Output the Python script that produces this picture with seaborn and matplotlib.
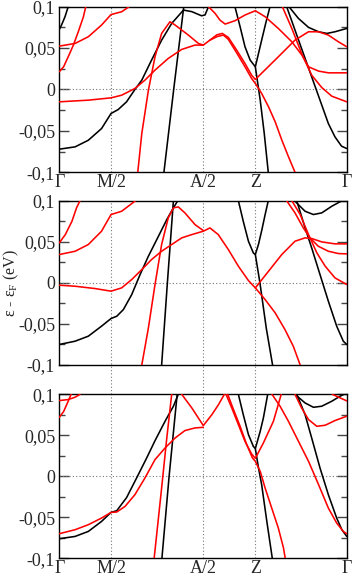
import numpy as np
import pandas as pd
import matplotlib
matplotlib.use("Agg")
import matplotlib.pyplot as plt
import seaborn as sns

# k-path (fraction of path length) and labels
kpts = [0.0, 0.18, 0.5, 0.682, 1.0]
klabels = ["Γ", "M/2", "A/2", "Z", "Γ"]
yticks = [-0.1, -0.05, 0.0, 0.05, 0.1]
ylabels = ["-0,1", "-0,05", "0", "0,05", "0,1"]

# ---- panel 1 : (k, E)
p1_black_gamma = [(0, 0.0725), (0.008, 0.078), (0.020, 0.088), (0.031, 0.100)]
p1_black_low = [(0, -0.0721), (0.055, -0.0693), (0.101, -0.0613), (0.147, -0.0472), (0.180, -0.029),
                (0.205, -0.0242), (0.234, -0.0149), (0.263, 0.0), (0.287, 0.0113), (0.321, 0.0355),
                (0.356, 0.0596), (0.391, 0.0798), (0.432, 0.0959), (0.461, 0.094), (0.495, 0.089),
                (0.507, 0.090), (0.519, 0.1)]
p1_black_steep = [(0.364, -0.1), (0.398, 0.0), (0.433, 0.1)]
p1_black_z = [(0.611, 0.1), (0.629, 0.0758), (0.646, 0.0516), (0.664, 0.0355), (0.682, 0.0274),
              (0.693, 0.0435), (0.704, 0.0596), (0.718, 0.0798), (0.733, 0.1)]
p1_black_zdown = [(0.682, 0.0274), (0.699, -0.0129), (0.713, -0.053), (0.727, -0.1)]
p1_black_g = [(0.791, 0.1), (0.820, 0.0717), (0.849, 0.0435), (0.878, 0.0153), (0.907, -0.0129),
              (0.936, -0.0411), (0.959, -0.0572), (0.982, -0.0685), (1.0, -0.0713)]
p1_black_h = [(0.799, 0.1), (0.832, 0.0858), (0.867, 0.075), (0.902, 0.0697), (0.931, 0.0677),
              (0.959, 0.0697), (1.0, 0.0737)]

p1_red_1 = [(0, 0.0524), (0.055, 0.0556), (0.101, 0.0637), (0.147, 0.0778), (0.180, 0.0905),
            (0.217, 0.0939), (0.243, 0.1)]
p1_red_2 = [(0, 0.0214), (0.015, 0.0274), (0.031, 0.0395), (0.049, 0.0536), (0.066, 0.0697),
            (0.084, 0.0879), (0.092, 0.1)]
p1_red_3 = [(0, -0.0149), (0.101, -0.0129), (0.180, -0.0101), (0.217, -0.0069), (0.263, 0.0012),
            (0.298, 0.0113), (0.333, 0.0234), (0.379, 0.0375), (0.426, 0.0484), (0.472, 0.0536),
            (0.501, 0.0536), (0.524, 0.0596), (0.548, 0.066), (0.567, 0.0677), (0.588, 0.0629),
            (0.617, 0.0476), (0.646, 0.0314), (0.669, 0.0173), (0.682, 0.0121), (0.762, 0.0395),
            (0.820, 0.0596), (0.867, 0.0697), (0.902, 0.0697), (0.936, 0.0657), (0.971, 0.0576),
            (1.0, 0.0516)]
p1_red_4 = [(0.273, -0.1), (0.287, -0.0532), (0.310, -0.0008), (0.333, 0.0395), (0.356, 0.0677),
            (0.385, 0.0818), (0.403, 0.0778), (0.449, 0.0657), (0.484, 0.0556), (0.501, 0.0536)]
p1_red_5 = [(0.524, 0.0596), (0.550, 0.0640), (0.571, 0.0657), (0.588, 0.0605), (0.617, 0.0443),
            (0.646, 0.0274), (0.669, 0.0133), (0.682, 0.0073), (0.704, -0.0048), (0.728, -0.021),
            (0.751, -0.039), (0.774, -0.061), (0.797, -0.081), (0.820, -0.1)]
p1_red_6 = [(0.519, 0.1), (0.542, 0.0919), (0.559, 0.0838), (0.577, 0.079), (0.611, 0.083),
            (0.646, 0.0899), (0.682, 0.0951), (0.716, 0.0879), (0.762, 0.0737), (0.809, 0.0576),
            (0.844, 0.0415), (0.867, 0.0274), (0.902, 0.0222), (0.936, 0.0201), (1.0, 0.0201)]
p1_red_7 = [(0.776, 0.1), (0.809, 0.0737), (0.843, 0.0435), (0.878, 0.0173), (0.913, 0.0024),
            (0.948, -0.0081), (1.0, -0.0149)]

# ---- panel 2
p2_black_low = [(0, -0.075), (0.055, -0.071), (0.101, -0.0649), (0.147, -0.0527), (0.180, -0.0434),
                (0.200, -0.0406), (0.223, -0.0325), (0.252, -0.0142), (0.281, 0.0101), (0.310, 0.0325),
                (0.345, 0.0568), (0.374, 0.0771), (0.397, 0.0913), (0.412, 0.1)]
p2_black_steep = [(0.356, -0.1), (0.376, 0.0), (0.397, 0.1)]
p2_black_z = [(0.623, 0.1), (0.640, 0.075), (0.658, 0.0507), (0.675, 0.0365), (0.682, 0.0345),
              (0.693, 0.047), (0.705, 0.065), (0.716, 0.083), (0.727, 0.1)]
p2_black_zdown = [(0.682, 0.0345), (0.698, 0.0), (0.720, -0.055), (0.742, -0.1)]
p2_black_g = [(0.826, 0.1), (0.855, 0.067), (0.878, 0.0426), (0.907, 0.0101), (0.936, -0.0223),
              (0.965, -0.0527), (0.988, -0.071), (1.0, -0.075)]
p2_black_h = [(0.818, 0.1), (0.855, 0.0872), (0.884, 0.0832), (0.913, 0.0852), (0.948, 0.0933),
              (0.983, 0.1)]

p2_red_1 = [(0, 0.0487), (0.021, 0.0588), (0.044, 0.075), (0.060, 0.0913), (0.072, 0.1)]
p2_red_2 = [(0, 0.0345), (0.055, 0.0385), (0.101, 0.0467), (0.147, 0.0629), (0.180, 0.0832),
            (0.217, 0.0872), (0.265, 0.1)]
p2_red_3 = [(0, -0.0028), (0.055, -0.0041), (0.124, -0.0069), (0.180, -0.0101), (0.217, -0.0061),
            (0.252, 0.0041), (0.287, 0.0162), (0.321, 0.0284), (0.356, 0.0385), (0.391, 0.0467),
            (0.426, 0.0548), (0.461, 0.0588), (0.501, 0.0629), (0.524, 0.0669), (0.553, 0.0588),
            (0.588, 0.0406), (0.623, 0.0203), (0.658, 0.0028), (0.682, -0.0061), (0.716, -0.0203),
            (0.751, -0.0365), (0.785, -0.0568), (0.814, -0.0771), (0.838, -0.1)]
p2_red_4 = [(0.287, -0.1), (0.310, -0.0548), (0.333, -0.002), (0.356, 0.0467), (0.379, 0.0791),
            (0.397, 0.0913), (0.414, 0.0925), (0.437, 0.0852), (0.472, 0.071), (0.501, 0.0637)]
p2_red_5 = [(0.682, -0.0061), (0.728, 0.0142), (0.774, 0.0345), (0.820, 0.0507), (0.855, 0.0548),
            (0.878, 0.054), (0.913, 0.0499), (0.959, 0.0475), (1.0, 0.0475)]
p2_red_6 = [(0.791, 0.1), (0.820, 0.0852), (0.849, 0.0669), (0.872, 0.0548), (0.901, 0.0446),
            (0.936, 0.0385), (0.971, 0.0357), (1.0, 0.0353)]
p2_red_7 = [(0.809, 0.1), (0.838, 0.0832), (0.867, 0.0588), (0.896, 0.0365), (0.925, 0.0203),
            (0.959, 0.0061), (1.0, -0.002)]

# ---- panel 3
p3_black_low = [(0, -0.0761), (0.055, -0.0733), (0.101, -0.0672), (0.147, -0.055), (0.180, -0.044),
                (0.200, -0.0419), (0.234, -0.026), (0.269, -0.002), (0.304, 0.0224), (0.333, 0.0435),
                (0.368, 0.0672), (0.397, 0.0855), (0.414, 0.1)]
p3_black_steep = [(0.357, -0.1), (0.382, 0.0), (0.410, 0.1)]
p3_black_z = [(0.623, 0.1), (0.640, 0.0753), (0.658, 0.0509), (0.675, 0.0366), (0.682, 0.0338),
              (0.699, 0.055), (0.710, 0.0712), (0.725, 0.1)]
p3_black_zdown = [(0.682, 0.0338), (0.693, 0.0102), (0.704, -0.0102), (0.722, -0.055), (0.741, -0.1)]
p3_black_g = [(0.826, 0.1), (0.855, 0.0753), (0.878, 0.0468), (0.907, 0.0102), (0.936, -0.0224),
              (0.965, -0.0509), (0.983, -0.0651), (1.0, -0.0733)]
p3_black_h = [(0.820, 0.1), (0.855, 0.0895), (0.884, 0.0842), (0.913, 0.0855), (0.948, 0.0916),
              (0.977, 0.0977), (0.99, 0.1)]

p3_red_low = [(0, -0.07), (0.055, -0.0651), (0.101, -0.059), (0.147, -0.0509), (0.180, -0.044),
              (0.200, -0.0435), (0.229, -0.0366), (0.263, -0.0224), (0.298, -0.002), (0.333, 0.0204),
              (0.368, 0.0346), (0.403, 0.0468), (0.437, 0.0558), (0.472, 0.059), (0.501, 0.0598)]
p3_red_steep = [(0.330, -0.1), (0.356, -0.0142), (0.374, 0.0468), (0.391, 0.1)]
p3_red_g1 = [(0, 0.072), (0.015, 0.079), (0.031, 0.0916), (0.041, 0.1)]
p3_red_g2 = [(0, 0.0924), (0.031, 0.0936), (0.055, 0.0965), (0.072, 0.1)]
p3_red_v = [(0.426, 0.1), (0.461, 0.0834), (0.501, 0.0619), (0.531, 0.0753), (0.554, 0.0875),
            (0.574, 0.1)]
p3_red_z1 = [(0.580, 0.1), (0.600, 0.0834), (0.623, 0.0631), (0.646, 0.0427), (0.669, 0.0273),
             (0.682, 0.022), (0.710, 0.0407), (0.745, 0.0672), (0.772, 0.1)]
p3_red_z2 = [(0.586, 0.1), (0.606, 0.0814), (0.629, 0.061), (0.652, 0.0387), (0.672, 0.0224),
             (0.682, 0.0183), (0.699, 0.0061), (0.716, -0.0142), (0.739, -0.0387), (0.762, -0.0631),
             (0.780, -0.0875), (0.786, -0.1)]
p3_red_x = [(0.820, 0.1), (0.843, 0.0834), (0.867, 0.0692), (0.896, 0.061), (0.925, 0.0623),
            (0.959, 0.068), (1.0, 0.0733)]
p3_red_y = [(0.95, 0.1), (0.975, 0.096), (1.0, 0.092)]
p3_red_zz = [(0.740, 0.1), (0.768, 0.0855), (0.797, 0.0672), (0.832, 0.0427), (0.867, 0.0183),
             (0.902, -0.0102), (0.936, -0.0387), (0.965, -0.057), (0.988, -0.0672), (1.0, -0.07)]

panels = [
    {"black": [p1_black_gamma, p1_black_low, p1_black_steep, p1_black_z, p1_black_zdown, p1_black_g, p1_black_h],
     "red": [p1_red_1, p1_red_2, p1_red_3, p1_red_4, p1_red_5, p1_red_6, p1_red_7]},
    {"black": [p2_black_low, p2_black_steep, p2_black_z, p2_black_zdown, p2_black_g, p2_black_h],
     "red": [p2_red_1, p2_red_2, p2_red_3, p2_red_4, p2_red_5, p2_red_6, p2_red_7]},
    {"black": [p3_black_low, p3_black_steep, p3_black_z, p3_black_zdown, p3_black_g, p3_black_h],
     "red": [p3_red_low, p3_red_steep, p3_red_g1, p3_red_g2, p3_red_v, p3_red_z1, p3_red_z2,
             p3_red_x, p3_red_y, p3_red_zz]},
]


def to_frame(bands):
    rows = []
    for i, b in enumerate(bands):
        for j, (k, e) in enumerate(b):
            rows.append({"band": i, "order": j, "k": k, "E": e})
    return pd.DataFrame(rows)


sns.set_style("ticks")
plt.rcParams["font.family"] = ["Liberation Serif", "DejaVu Serif"]
plt.rcParams["mathtext.fontset"] = "custom"
plt.rcParams["mathtext.rm"] = "Liberation Serif"
plt.rcParams["mathtext.it"] = "Liberation Serif:italic"

fig = plt.figure(figsize=(3.54, 5.76), dpi=100)
positions = [[0.1675, 0.7009, 0.812, 0.2875],
             [0.1675, 0.3663, 0.812, 0.2852],
             [0.1675, 0.0307, 0.812, 0.2847]]

for n, (pos, pan) in enumerate(zip(positions, panels)):
    ax = fig.add_axes(pos)
    # dotted guide lines
    ax.axhline(0, color="#777777", ls=(0, (1, 2)), lw=0.8, zorder=1)
    for kx in kpts[1:4]:
        if n == 1:
            ax.axvline(kx, ymin=-0.178, ymax=1, color="#777777", ls=(0, (1, 2)), lw=0.8,
                       clip_on=False, zorder=1)
        else:
            ax.axvline(kx, color="#777777", ls=(0, (1, 2)), lw=0.8, zorder=1)

    for col in ["black", "red"]:
        df = to_frame(pan[col])
        sns.lineplot(data=df, x="k", y="E", units="band", estimator=None, sort=False,
                     color=col, lw=1.15, ax=ax, zorder=3)

    ax.set_xlim(0, 1)
    ax.set_ylim(-0.1, 0.1)
    ax.set_yticks(yticks)
    ax.set_yticklabels(ylabels, fontsize=13)
    ax.set_yticks(np.arange(-0.075, 0.1, 0.05), minor=True)
    ax.tick_params(axis="y", which="both", direction="in", left=True, right=True, color="#444444")
    ax.tick_params(axis="y", which="major", length=7, width=1.0, pad=3)
    ax.tick_params(axis="y", which="minor", length=4, width=1.0)
    ax.set_xticks(kpts)
    if n == 1:
        ax.set_xticklabels([])
    else:
        ax.set_xticklabels(klabels, fontsize=13)
    ax.tick_params(axis="x", length=0, pad=1)
    ax.set_xlabel("")
    ax.set_ylabel("")
    for sp in ax.spines.values():
        sp.set_linewidth(1.0)
        sp.set_color("black")

# axis title as a figure text, centred on the middle panel
fig.text(0.032, positions[1][1] + positions[1][3] / 2, "ε - ε$_\\mathrm{F}$ (eV)",
         rotation=90, ha="center", va="center", fontsize=11.5)

fig.savefig("out.png", dpi=100)
